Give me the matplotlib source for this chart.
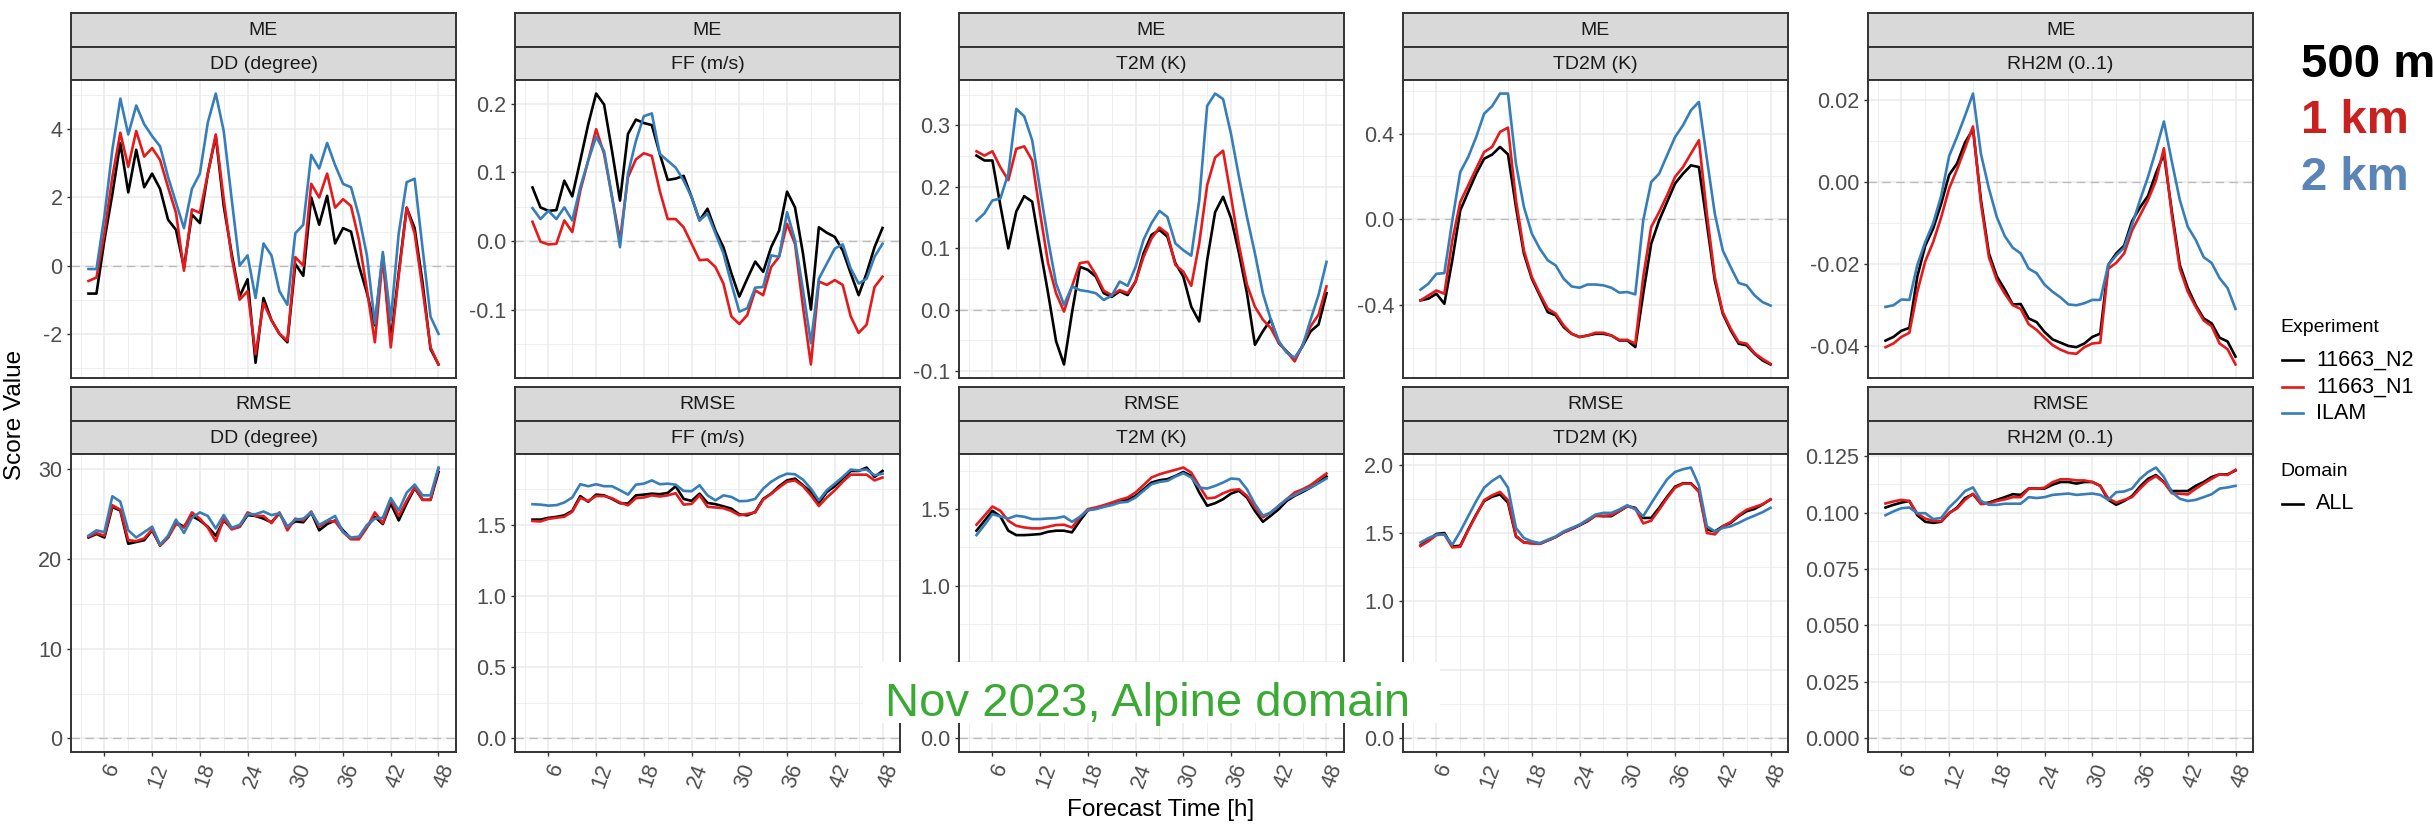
"""ME / RMSE of surface parameters vs forecast lead time, three experiments (Nov 2023, Alpine domain)."""

import matplotlib
matplotlib.use("Agg")
import matplotlib.pyplot as plt
from matplotlib.patches import Rectangle
from matplotlib.lines import Line2D
import numpy as np

plt.rcParams["font.family"] = ["Liberation Sans", "DejaVu Sans"]

HOURS = list(range(4, 49))
EXPERIMENTS = ["11663_N2", "11663_N1", "ILAM"]
EXP_COLORS = ["#000000", "#E41A1C", "#377EB8"]
PARAMS = ["DD (degree)", "FF (m/s)", "T2M (K)", "TD2M (K)", "RH2M (0..1)"]
SCORES = ["ME", "RMSE"]

# ---- ME ----
me_dd_n2 = [-0.82, -0.82, 0.75, 2.1, 3.6, 2.15, 3.4, 2.3, 2.7, 2.25, 1.35, 1.05, -0.05, 1.5, 1.25, 2.7, 3.8, 1.75, 0.35, -0.9,
            -0.4, -2.85, -0.95, -1.6, -2.0, -2.25, 0.05, -0.3, 2.0, 1.2, 2.05, 0.65, 1.1, 1.0, 0.0, -0.8, -1.75, 0.3, -2.2, -0.2,
            1.7, 1.1, -0.5, -2.45, -2.9]
me_dd_n1 = [-0.45, -0.35, 0.95, 2.6, 3.9, 2.9, 3.95, 3.2, 3.45, 3.1, 2.3, 1.55, -0.15, 1.65, 1.55, 2.7, 3.85, 1.95, 0.25, -1.0,
            -0.75, -2.6, -1.1, -1.6, -2.0, -2.2, 0.25, 0.0, 2.4, 2.0, 2.7, 1.7, 1.95, 1.75, 0.75, -0.7, -2.25, 0.25, -2.4, -0.3,
            1.7, 0.95, -0.7, -2.4, -2.9]
me_dd_ilam = [-0.1, -0.1, 1.45, 3.4, 4.9, 3.85, 4.7, 4.15, 3.8, 3.5, 2.6, 1.85, 1.1, 2.25, 2.7, 4.2, 5.05, 3.95, 1.95, 0.0,
              0.3, -0.95, 0.65, 0.3, -0.75, -1.15, 0.95, 1.2, 3.25, 2.85, 3.6, 2.95, 2.4, 2.3, 1.45, 0.3, -1.7, 0.4, -1.6, 0.95,
              2.45, 2.55, 0.5, -1.5, -2.0]

me_ff_n2 = [0.078, 0.049, 0.044, 0.045, 0.088, 0.065, 0.117, 0.17, 0.215, 0.199, 0.131, 0.059, 0.156, 0.177, 0.172, 0.169,
            0.127, 0.089, 0.091, 0.095, 0.064, 0.030, 0.047, 0.015, -0.009, -0.047, -0.081, -0.055, -0.030, -0.045, -0.009,
            0.015, 0.072, 0.049, -0.018, -0.100, 0.020, 0.012, 0.006, -0.014, -0.047, -0.079, -0.047, -0.009, 0.019]
me_ff_n1 = [0.028, -0.001, -0.005, -0.004, 0.030, 0.013, 0.073, 0.117, 0.163, 0.127, 0.064, 0.001, 0.093, 0.119, 0.128, 0.124,
            0.073, 0.032, 0.032, 0.020, -0.004, -0.028, -0.027, -0.038, -0.062, -0.110, -0.121, -0.108, -0.072, -0.079, -0.038,
            -0.023, 0.025, -0.004, -0.096, -0.180, -0.059, -0.064, -0.057, -0.064, -0.110, -0.134, -0.122, -0.067, -0.052]
me_ff_ilam = [0.048, 0.032, 0.044, 0.032, 0.049, 0.030, 0.078, 0.117, 0.152, 0.131, 0.064, -0.009, 0.098, 0.146, 0.182, 0.186,
              0.127, 0.117, 0.107, 0.088, 0.064, 0.030, 0.040, 0.011, -0.018, -0.062, -0.103, -0.098, -0.068, -0.067, -0.021,
              -0.023, 0.042, 0.001, -0.071, -0.149, -0.055, -0.033, -0.011, -0.005, -0.040, -0.062, -0.055, -0.023, -0.004]

me_t2m_n2 = [0.251, 0.243, 0.243, 0.17, 0.10, 0.16, 0.185, 0.176, 0.10, 0.027, -0.051, -0.089, -0.005, 0.070, 0.065, 0.054,
             0.027, 0.021, 0.030, 0.024, 0.046, 0.092, 0.122, 0.130, 0.119, 0.076, 0.054, 0.005, -0.019, 0.081, 0.159, 0.184,
             0.149, 0.092, 0.027, -0.057, -0.035, -0.016, -0.054, -0.068, -0.080, -0.059, -0.035, -0.024, 0.027]
me_t2m_n1 = [0.258, 0.251, 0.258, 0.232, 0.211, 0.262, 0.266, 0.243, 0.157, 0.076, 0.027, -0.003, 0.038, 0.076, 0.078, 0.057,
             0.031, 0.024, 0.032, 0.027, 0.046, 0.086, 0.116, 0.134, 0.124, 0.073, 0.062, 0.039, 0.108, 0.203, 0.248, 0.259,
             0.184, 0.105, 0.041, 0.005, -0.016, -0.030, -0.054, -0.068, -0.084, -0.057, -0.027, -0.008, 0.038]
me_t2m_ilam = [0.145, 0.157, 0.178, 0.181, 0.222, 0.327, 0.315, 0.276, 0.195, 0.114, 0.043, 0.008, 0.038, 0.032, 0.030, 0.027,
               0.016, 0.023, 0.046, 0.039, 0.070, 0.114, 0.141, 0.161, 0.151, 0.108, 0.097, 0.088, 0.178, 0.332, 0.352, 0.343,
               0.286, 0.216, 0.151, 0.092, 0.027, -0.016, -0.051, -0.070, -0.078, -0.059, -0.016, 0.024, 0.078]

me_td2m_n2 = [-0.378, -0.370, -0.347, -0.394, -0.19, 0.042, 0.128, 0.213, 0.283, 0.302, 0.338, 0.303, 0.058, -0.16, -0.277,
              -0.355, -0.433, -0.448, -0.503, -0.534, -0.549, -0.542, -0.534, -0.534, -0.542, -0.565, -0.565, -0.596, -0.347,
              -0.114, -0.005, 0.081, 0.167, 0.213, 0.252, 0.244, -0.020, -0.285, -0.44, -0.518, -0.58, -0.588, -0.627, -0.658,
              -0.677]
me_td2m_n1 = [-0.378, -0.355, -0.332, -0.347, -0.098, 0.081, 0.159, 0.237, 0.314, 0.338, 0.408, 0.428, 0.089, -0.145, -0.269,
              -0.347, -0.417, -0.44, -0.495, -0.534, -0.549, -0.542, -0.529, -0.529, -0.542, -0.562, -0.562, -0.58, -0.269,
              -0.036, 0.034, 0.112, 0.198, 0.244, 0.307, 0.369, 0.026, -0.269, -0.433, -0.51, -0.573, -0.58, -0.624, -0.651,
              -0.674]
me_td2m_ilam = [-0.328, -0.30, -0.254, -0.251, -0.005, 0.221, 0.291, 0.384, 0.493, 0.528, 0.587, 0.587, 0.26, 0.058, -0.067,
                -0.137, -0.191, -0.215, -0.277, -0.313, -0.319, -0.304, -0.304, -0.308, -0.319, -0.342, -0.339, -0.35, -0.005,
                0.174, 0.213, 0.299, 0.384, 0.439, 0.509, 0.548, 0.283, 0.026, -0.145, -0.223, -0.297, -0.308, -0.355, -0.386,
                -0.402]

me_rh2m_n2 = [-0.0386, -0.0377, -0.0362, -0.0355, -0.0230, -0.0155, -0.0113, -0.0053, 0.0017, 0.0045, 0.0096, 0.0128, -0.0044,
              -0.0174, -0.0230, -0.0262, -0.0298, -0.0297, -0.0332, -0.0341, -0.0365, -0.0383, -0.0391, -0.0399, -0.0402,
              -0.0393, -0.0377, -0.0369, -0.0202, -0.0174, -0.0155, -0.0095, -0.0062, -0.0034, 0.0021, 0.0068, -0.0072,
              -0.0202, -0.0258, -0.0300, -0.0332, -0.0344, -0.0379, -0.0388, -0.0425]
me_rh2m_n1 = [-0.0402, -0.0393, -0.0377, -0.0367, -0.0267, -0.0193, -0.0146, -0.0086, -0.0016, 0.0031, 0.0082, 0.0135, -0.0053,
              -0.0183, -0.0239, -0.0272, -0.0300, -0.0309, -0.0346, -0.0360, -0.0379, -0.0397, -0.0408, -0.0416, -0.0418,
              -0.0402, -0.0393, -0.0391, -0.0211, -0.0197, -0.0174, -0.0118, -0.0081, -0.0044, 0.0003, 0.0082, -0.0081,
              -0.0211, -0.0267, -0.0304, -0.0337, -0.0351, -0.0393, -0.0407, -0.0444]
me_rh2m_ilam = [-0.0304, -0.0300, -0.0286, -0.0287, -0.0202, -0.0146, -0.0100, -0.0034, 0.0063, 0.0110, 0.0161, 0.0215, 0.0068,
                -0.0016, -0.0086, -0.0132, -0.0160, -0.0174, -0.0211, -0.0222, -0.0250, -0.0267, -0.0281, -0.0298, -0.0300,
                -0.0295, -0.0287, -0.0287, -0.0202, -0.0179, -0.0160, -0.0104, -0.0044, 0.0012, 0.0077, 0.0147, 0.0049,
                -0.0044, -0.0109, -0.0141, -0.0183, -0.0197, -0.0234, -0.0258, -0.0309]

# ---- RMSE ----
rmse_dd_n2 = [22.4, 22.8, 22.4, 25.8, 25.4, 21.7, 21.9, 22.1, 23.2, 21.5, 22.4, 24.1, 23.6, 24.8, 24.3, 23.6, 22.6, 24.3, 23.4,
              23.6, 24.9, 24.8, 24.5, 24.1, 25.1, 23.6, 24.2, 24.1, 25.2, 23.2, 23.9, 24.3, 23.2, 22.3, 22.3, 23.6, 24.7, 23.9,
              26.2, 24.3, 26.2, 27.9, 26.6, 26.6, 29.7]
rmse_dd_n1 = [22.5, 22.9, 22.6, 26.0, 25.5, 22.1, 22.0, 22.3, 23.3, 21.5, 22.4, 23.9, 23.5, 25.2, 24.5, 23.5, 22.0, 24.5, 23.3,
              23.6, 25.2, 24.8, 24.8, 24.0, 25.2, 23.2, 24.5, 24.3, 25.3, 23.6, 24.2, 24.2, 23.0, 22.2, 22.2, 23.5, 25.2, 24.0,
              26.6, 24.8, 26.5, 28.0, 26.6, 26.6, 30.1]
rmse_dd_ilam = [22.6, 23.2, 23.0, 27.0, 26.4, 23.2, 22.4, 23.0, 23.6, 21.6, 22.6, 24.4, 22.9, 24.6, 25.2, 24.8, 23.4, 24.9, 23.5,
                23.8, 25.0, 25.0, 25.3, 24.9, 25.1, 23.6, 24.4, 24.5, 25.2, 23.8, 24.3, 24.8, 23.0, 22.4, 22.5, 23.8, 24.5, 24.6,
                26.8, 25.4, 27.4, 28.3, 27.1, 27.1, 30.2]

rmse_ff_n2 = [1.535, 1.535, 1.547, 1.554, 1.565, 1.596, 1.70, 1.66, 1.71, 1.705, 1.68, 1.65, 1.647, 1.705, 1.71, 1.717, 1.713,
              1.722, 1.769, 1.68, 1.666, 1.717, 1.652, 1.643, 1.628, 1.612, 1.572, 1.565, 1.589, 1.68, 1.717, 1.769, 1.81, 1.822,
              1.776, 1.729, 1.652, 1.729, 1.769, 1.822, 1.876, 1.876, 1.90, 1.834, 1.876]
rmse_ff_n1 = [1.525, 1.522, 1.54, 1.548, 1.555, 1.59, 1.688, 1.665, 1.70, 1.70, 1.685, 1.655, 1.635, 1.685, 1.69, 1.705, 1.697,
              1.705, 1.72, 1.64, 1.645, 1.705, 1.625, 1.62, 1.615, 1.595, 1.565, 1.575, 1.585, 1.675, 1.715, 1.76, 1.80, 1.81,
              1.77, 1.705, 1.63, 1.69, 1.74, 1.80, 1.85, 1.85, 1.85, 1.81, 1.83]
rmse_ff_ilam = [1.643, 1.64, 1.633, 1.636, 1.655, 1.69, 1.783, 1.769, 1.783, 1.769, 1.769, 1.741, 1.71, 1.78, 1.787, 1.81, 1.783,
                1.787, 1.78, 1.736, 1.734, 1.776, 1.705, 1.67, 1.705, 1.694, 1.664, 1.666, 1.68, 1.752, 1.80, 1.834, 1.857, 1.853,
                1.815, 1.752, 1.67, 1.741, 1.787, 1.834, 1.886, 1.88, 1.886, 1.846, 1.857]

rmse_t2m_n2 = [1.359, 1.424, 1.489, 1.452, 1.359, 1.33, 1.33, 1.333, 1.337, 1.352, 1.359, 1.359, 1.348, 1.424, 1.493, 1.504,
               1.517, 1.533, 1.548, 1.561, 1.587, 1.63, 1.674, 1.689, 1.696, 1.717, 1.743, 1.717, 1.609, 1.522, 1.539, 1.565,
               1.602, 1.62, 1.576, 1.489, 1.417, 1.457, 1.50, 1.554, 1.587, 1.613, 1.641, 1.674, 1.713]
rmse_t2m_n1 = [1.398, 1.457, 1.517, 1.489, 1.424, 1.391, 1.38, 1.374, 1.374, 1.385, 1.396, 1.398, 1.38, 1.446, 1.50, 1.511,
               1.526, 1.543, 1.561, 1.576, 1.609, 1.657, 1.707, 1.728, 1.743, 1.757, 1.772, 1.739, 1.652, 1.57, 1.576, 1.604,
               1.624, 1.63, 1.587, 1.511, 1.446, 1.478, 1.522, 1.565, 1.609, 1.63, 1.657, 1.696, 1.733]
rmse_t2m_ilam = [1.33, 1.396, 1.467, 1.452, 1.439, 1.457, 1.45, 1.435, 1.435, 1.439, 1.441, 1.452, 1.417, 1.45, 1.493, 1.50,
                 1.515, 1.526, 1.543, 1.548, 1.576, 1.62, 1.663, 1.678, 1.685, 1.713, 1.735, 1.707, 1.641, 1.635, 1.652, 1.674,
                 1.70, 1.696, 1.63, 1.533, 1.457, 1.478, 1.522, 1.565, 1.591, 1.62, 1.641, 1.67, 1.70]

rmse_td2m_n2 = [1.409, 1.451, 1.493, 1.50, 1.402, 1.407, 1.525, 1.635, 1.733, 1.765, 1.782, 1.721, 1.475, 1.431, 1.426, 1.422,
                1.446, 1.471, 1.505, 1.529, 1.556, 1.586, 1.627, 1.623, 1.623, 1.659, 1.696, 1.684, 1.61, 1.61, 1.684, 1.765,
                1.838, 1.863, 1.863, 1.806, 1.525, 1.512, 1.549, 1.574, 1.623, 1.659, 1.676, 1.708, 1.745]
rmse_td2m_n1 = [1.405, 1.44, 1.485, 1.49, 1.395, 1.40, 1.52, 1.63, 1.74, 1.775, 1.80, 1.74, 1.48, 1.43, 1.425, 1.42, 1.445,
                1.47, 1.505, 1.53, 1.56, 1.59, 1.625, 1.625, 1.63, 1.66, 1.695, 1.68, 1.57, 1.59, 1.67, 1.755, 1.83, 1.86, 1.86,
                1.80, 1.50, 1.49, 1.55, 1.58, 1.63, 1.67, 1.69, 1.71, 1.745]
rmse_td2m_ilam = [1.431, 1.463, 1.488, 1.488, 1.414, 1.512, 1.623, 1.733, 1.831, 1.88, 1.917, 1.831, 1.537, 1.463, 1.439, 1.426,
                  1.451, 1.475, 1.512, 1.537, 1.561, 1.598, 1.635, 1.647, 1.647, 1.672, 1.703, 1.672, 1.623, 1.716, 1.806,
                  1.892, 1.946, 1.966, 1.978, 1.848, 1.549, 1.512, 1.537, 1.549, 1.574, 1.603, 1.627, 1.652, 1.684]

rmse_rh2m_n2 = [0.1022, 0.1034, 0.1044, 0.1051, 0.0988, 0.0959, 0.0954, 0.0959, 0.0997, 0.1022, 0.1064, 0.1081, 0.1039, 0.1044,
                0.1056, 0.1068, 0.1081, 0.1078, 0.1106, 0.1106, 0.1106, 0.1123, 0.1135, 0.1135, 0.1128, 0.1135, 0.1135, 0.1118,
                0.1056, 0.1034, 0.1051, 0.1073, 0.1115, 0.1149, 0.1166, 0.1135, 0.1095, 0.1095, 0.1095, 0.1118, 0.1135, 0.1157,
                0.1169, 0.1169, 0.1186]
rmse_rh2m_n1 = [0.1040, 0.1049, 0.1056, 0.1051, 0.0995, 0.0973, 0.0963, 0.0961, 0.0998, 0.1018, 0.1056, 0.1083, 0.1037, 0.1040,
                0.1051, 0.1058, 0.1068, 0.1068, 0.1105, 0.1105, 0.1110, 0.1134, 0.1147, 0.1147, 0.1142, 0.1142, 0.1135, 0.1118,
                0.1063, 0.1044, 0.1056, 0.1068, 0.1106, 0.1140, 0.1161, 0.1133, 0.1085, 0.1083, 0.1080, 0.1105, 0.1128, 0.1149,
                0.1169, 0.1166, 0.1189]
rmse_rh2m_ilam = [0.0988, 0.1005, 0.1019, 0.1022, 0.0997, 0.0997, 0.0971, 0.0976, 0.1022, 0.1056, 0.1095, 0.1111, 0.1051,
                  0.1034, 0.1034, 0.1039, 0.1039, 0.1039, 0.1068, 0.1064, 0.1068, 0.1078, 0.1081, 0.1084, 0.1078, 0.1081,
                  0.1084, 0.1078, 0.1056, 0.1090, 0.1093, 0.1106, 0.1149, 0.1179, 0.1199, 0.1157, 0.1090, 0.1061, 0.1051,
                  0.1056, 0.1068, 0.1081, 0.1106, 0.1111, 0.1118]

SERIES = {
    "ME": [[me_dd_n2, me_dd_n1, me_dd_ilam], [me_ff_n2, me_ff_n1, me_ff_ilam], [me_t2m_n2, me_t2m_n1, me_t2m_ilam],
           [me_td2m_n2, me_td2m_n1, me_td2m_ilam], [me_rh2m_n2, me_rh2m_n1, me_rh2m_ilam]],
    "RMSE": [[rmse_dd_n2, rmse_dd_n1, rmse_dd_ilam], [rmse_ff_n2, rmse_ff_n1, rmse_ff_ilam],
             [rmse_t2m_n2, rmse_t2m_n1, rmse_t2m_ilam], [rmse_td2m_n2, rmse_td2m_n1, rmse_td2m_ilam],
             [rmse_rh2m_n2, rmse_rh2m_n1, rmse_rh2m_ilam]],
}

# y breaks per panel (value, label)
YTICKS = {
    "ME": [([-2, 0, 2, 4], ["-2", "0", "2", "4"]),
           ([-0.1, 0.0, 0.1, 0.2], ["-0.1", "0.0", "0.1", "0.2"]),
           ([-0.1, 0.0, 0.1, 0.2, 0.3], ["-0.1", "0.0", "0.1", "0.2", "0.3"]),
           ([-0.4, 0.0, 0.4], ["-0.4", "0.0", "0.4"]),
           ([-0.04, -0.02, 0.0, 0.02], ["-0.04", "-0.02", "0.00", "0.02"])],
    "RMSE": [([0, 10, 20, 30], ["0", "10", "20", "30"]),
             ([0.0, 0.5, 1.0, 1.5], ["0.0", "0.5", "1.0", "1.5"]),
             ([0.0, 0.5, 1.0, 1.5], ["0.0", "0.5", "1.0", "1.5"]),
             ([0.0, 0.5, 1.0, 1.5, 2.0], ["0.0", "0.5", "1.0", "1.5", "2.0"]),
             ([0.0, 0.025, 0.05, 0.075, 0.1, 0.125], ["0.000", "0.025", "0.050", "0.075", "0.100", "0.125"])],
}
# tick labels that sit underneath the white annotation box in the original
COVERED = {("RMSE", 2): "0.5", ("RMSE", 3): "0.5"}
XTICKS = [6, 12, 18, 24, 30, 36, 42, 48]

# layout in pixels of the 2433x824 canvas
W, H = 2433, 824
COL_LEFT = [71, 515, 959, 1403, 1868]
PANEL_W = 385
STRIP_TOP = [13, 387]
STRIP_H = 33.5
PANEL_H = 298
DARK = "#333333"


def rect(x0, y0, w, h):
    return [x0 / W, 1 - (y0 + h) / H, w / W, h / H]


fig = plt.figure(figsize=(W / 100, H / 100), dpi=100)

for r, score in enumerate(SCORES):
    for c, param in enumerate(PARAMS):
        x0 = COL_LEFT[c]
        # two strips: score on top, parameter below
        for k, label in enumerate([score, param]):
            sax = fig.add_axes(rect(x0, STRIP_TOP[r] + k * STRIP_H, PANEL_W, STRIP_H))
            sax.set_facecolor("#D9D9D9")
            sax.set_xticks([])
            sax.set_yticks([])
            for sp in sax.spines.values():
                sp.set_color(DARK)
                sp.set_linewidth(1.4)
            sax.text(0.5, 0.47, label, ha="center", va="center", fontsize=14, color="#1A1A1A",
                     transform=sax.transAxes)

        ax = fig.add_axes(rect(x0, STRIP_TOP[r] + 2 * STRIP_H, PANEL_W, PANEL_H))
        vals = SERIES[score][c]
        for series, color in zip(vals, EXP_COLORS):
            ax.plot(HOURS, series, color=color, lw=1.9, zorder=3)
        ax.axhline(0, color="#BDBDBD", lw=1.0, ls=(0, (6, 4)), zorder=2)

        # ggplot-style limits: data (and the zero line) + 5 % each side
        allv = np.concatenate([np.asarray(v) for v in vals] + [[0.0]])
        lo, hi = allv.min(), allv.max()
        pad = 0.05 * (hi - lo)
        ylim = (lo - pad, hi + pad)
        xpad = 0.05 * (HOURS[-1] - HOURS[0])
        xlim = (HOURS[0] - xpad, HOURS[-1] + xpad)

        yt, yl = YTICKS[score][c]
        hidden = COVERED.get((score, c))
        ax.set_yticks(yt)
        ax.set_yticklabels(["" if lab == hidden else lab for lab in yl])
        step = yt[1] - yt[0]
        ym = np.arange(yt[0] - step / 2, yt[-1] + step, step)
        ax.set_yticks(ym[(ym > ylim[0]) & (ym < ylim[1])], minor=True)
        ax.set_xticks(XTICKS)
        ax.set_xticks(np.arange(3, 49, 6), minor=True)
        ax.set_ylim(*ylim)
        ax.set_xlim(*xlim)

        ax.grid(which="major", color="#EBEBEB", lw=1.1)
        ax.grid(which="minor", color="#EBEBEB", lw=0.55)
        ax.set_axisbelow(True)
        for sp in ax.spines.values():
            sp.set_color(DARK)
            sp.set_linewidth(1.4)
        ax.tick_params(which="minor", length=0)
        ax.tick_params(axis="y", which="major", direction="out", length=3.2, width=1.0, color=DARK,
                       labelcolor="#4D4D4D", labelsize=15.5, pad=3)
        if r == 1:
            ax.tick_params(axis="x", which="major", direction="out", length=3.2, width=1.0, color=DARK,
                           labelcolor="#4D4D4D", labelsize=15.5, pad=3)
            ax.set_xticklabels([str(t) for t in XTICKS])
            for lab in ax.get_xticklabels():
                lab.set_rotation(70)
                lab.set_rotation_mode("anchor")
                lab.set_ha("right")
                lab.set_va("top")
        else:
            ax.tick_params(axis="x", which="major", length=0, labelbottom=False)

# axis titles
fig.text(15 / W, 1 - 415 / H, "Score Value", rotation=90, ha="center", va="center", fontsize=17.5)
fig.text(1161 / W, 1 - 810 / H, "Forecast Time [h]", ha="center", va="center", fontsize=17.5)

# legends
fig.text(2280 / W, 1 - 327 / H, "Experiment", ha="left", va="center", fontsize=14)
for name, color, yy in zip(EXPERIMENTS, EXP_COLORS, [360, 387, 413]):
    fig.add_artist(Line2D([2282 / W, 2303 / W], [1 - yy / H] * 2, color=color, lw=1.9, transform=fig.transFigure))
    fig.text(2316 / W, 1 - yy / H, name, ha="left", va="center", fontsize=15.5)
fig.text(2280 / W, 1 - 471 / H, "Domain", ha="left", va="center", fontsize=14)
fig.add_artist(Line2D([2282 / W, 2303 / W], [1 - 504 / H] * 2, color="#000000", lw=1.9, transform=fig.transFigure))
fig.text(2316 / W, 1 - 504 / H, "ALL", ha="left", va="center", fontsize=15.5)

# resolution labels
for txt, color, base in [("500 m", "#000000", 77), ("1 km", "#C8211F", 133), ("2 km", "#5A84B5", 190)]:
    fig.text(2301 / W, 1 - base / H, txt, ha="left", va="baseline", fontsize=34, fontweight="bold", color=color)

# overlay annotation
fig.add_artist(Rectangle((863 / W, 1 - 723 / H), (1440 - 863) / W, (723 - 662) / H, facecolor="white",
                         edgecolor="none", transform=fig.transFigure, zorder=10))
fig.text(1148 / W, 1 - 716 / H, "Nov 2023, Alpine domain", ha="center", va="baseline", fontsize=34,
         color="#3AAA35", zorder=11)

fig.savefig("out.png", dpi=100)
